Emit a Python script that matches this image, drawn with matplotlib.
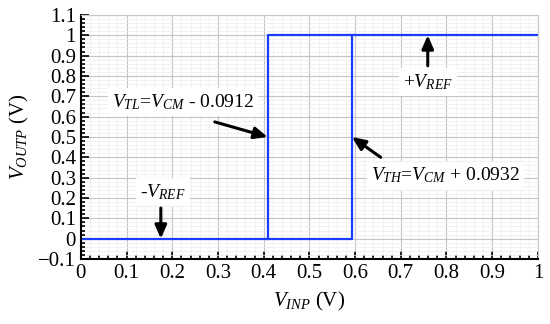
import matplotlib.pyplot as plt
import numpy as np
from matplotlib.ticker import MultipleLocator

plt.rcParams['font.family'] = ['Liberation Serif', 'DejaVu Serif']
plt.rcParams['mathtext.fontset'] = 'custom'
plt.rcParams['mathtext.rm'] = 'Liberation Serif'
plt.rcParams['mathtext.it'] = 'Liberation Serif:italic'

# data: hysteresis transfer curve
v_cm = 0.5
v_tl = v_cm - 0.0912
v_th = v_cm + 0.0932
# rising branch (low state until V_TH)
low_x = [0, v_th, v_th]
low_y = [0, 0, 1]
# falling branch (high state down to V_TL)
high_x = [1, v_tl, v_tl]
high_y = [1, 1, 0]

blue = '#1a3cff'

fig = plt.figure(figsize=(5.5, 3.24), dpi=100)
ax = fig.add_axes([0.147, 0.2006, 0.831, 0.7534])

ax.plot(low_x, low_y, color=blue, lw=1.6)
ax.plot(high_x, high_y, color=blue, lw=1.6)

ax.set_xlim(0, 1)
ax.set_ylim(-0.1, 1.1)
ax.xaxis.set_minor_locator(MultipleLocator(0.02))
ax.yaxis.set_minor_locator(MultipleLocator(0.02))
ax.set_xticks(np.arange(0, 1.01, 0.1))
ax.set_xticklabels(['0', '0.1', '0.2', '0.3', '0.4', '0.5', '0.6', '0.7', '0.8', '0.9', '1'])
ax.set_yticks(np.arange(-0.1, 1.11, 0.1))
ax.set_yticklabels(['\u22120.1', '0', '0.1', '0.2', '0.3', '0.4', '0.5', '0.6',
                    '0.7', '0.8', '0.9', '1', '1.1'])
ax.grid(which='major', color='#c4c4c4', lw=0.8)
ax.grid(which='minor', color='#ececec', lw=0.5)
ax.set_axisbelow(True)

ax.tick_params(which='both', direction='in', top=False, right=False, labelsize=15,
               width=1.2, color='black')
ax.tick_params(which='major', length=6)
ax.tick_params(which='minor', length=3)
for s in ['left', 'bottom']:
    ax.spines[s].set_linewidth(1.5)
for s in ['top', 'right']:
    ax.spines[s].set_color('#c8c8c8')

ax.set_xlabel(r'$V_{INP}$ (V)', fontsize=15, labelpad=5)
ax.set_ylabel(r'$V_{OUTP}$ (V)', fontsize=15, labelpad=5)

box = dict(facecolor='white', edgecolor='none', pad=3)
arr = dict(arrowstyle='-|>,head_length=0.8,head_width=0.35', color='black', lw=2.2,
           shrinkA=0, shrinkB=0)
ax.text(0.223, 0.67, r'$V_{TL}$=$V_{CM}$ - 0.0912', ha='center', va='center',
        fontsize=14, bbox=box)
ax.annotate('', xy=(v_tl, 0.5), xytext=(0.293, 0.574), arrowprops=arr)
ax.text(0.797, 0.31, r'$V_{TH}$=$V_{CM}$ + 0.0932', ha='center', va='center',
        fontsize=14, bbox=box)
ax.annotate('', xy=(v_th, 0.5), xytext=(0.656, 0.40), arrowprops=arr)
ax.text(0.759, 0.77, r'+$V_{REF}$', ha='center', va='center', fontsize=14, bbox=box)
ax.annotate('', xy=(0.759, 1.0), xytext=(0.759, 0.85), arrowprops=arr)
ax.text(0.179, 0.23, r'-$V_{REF}$', ha='center', va='center', fontsize=14, bbox=box)
ax.annotate('', xy=(0.175, 0.0), xytext=(0.175, 0.151), arrowprops=arr)

fig.savefig('out.png', dpi=100)
